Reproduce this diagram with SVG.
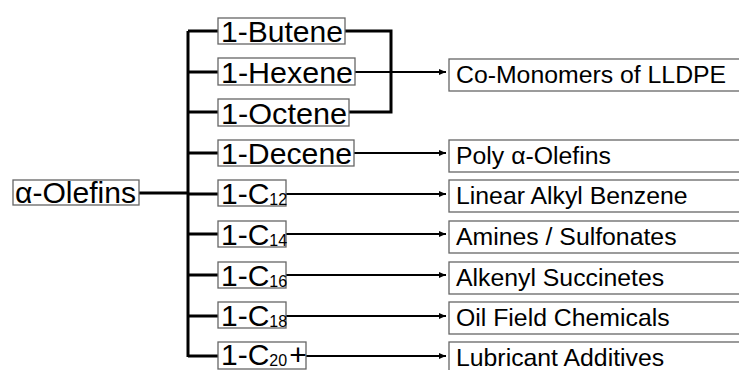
<svg xmlns="http://www.w3.org/2000/svg" width="739" height="370" viewBox="0 0 739 370">
<style>
.box{fill:#fff;stroke:#666;stroke-width:1.3}
.big{font-family:"Liberation Sans",Arial,sans-serif;font-size:30px;fill:#000}
.sub{font-size:16px}
.rt{font-family:"Liberation Sans",Arial,sans-serif;font-size:24.8px;fill:#000}
.ln{fill:none;stroke:#000;stroke-width:3}
.ar{fill:none;stroke:#000;stroke-width:2.2}
</style>
<defs>
<marker id="ah" markerWidth="8" markerHeight="8" refX="7" refY="4" orient="auto" markerUnits="userSpaceOnUse">
<path d="M0,1 L7,4 L0,7 Z" fill="#000"/>
</marker>
</defs>
<rect width="739" height="370" fill="#fff"/>
<g id="connectors">
<path class="ln" d="M139,193 H188 M188,31 V357 M188,31 H218 M188,72 H218 M188,112 H218 M188,153 H218 M188,194 H218 M188,234 H218 M188,275 H218 M188,316 H218 M188,356 H218"/>
<path class="ln" d="M345,31 H391 V112 H349"/>
<path class="ar" d="M355,72 H446" marker-end="url(#ah)"/>
<path class="ar" d="M354,153 H446" marker-end="url(#ah)"/>
<path class="ar" d="M286,194 H446" marker-end="url(#ah)"/>
<path class="ar" d="M286,234 H446" marker-end="url(#ah)"/>
<path class="ar" d="M286,275 H446" marker-end="url(#ah)"/>
<path class="ar" d="M286,316 H446" marker-end="url(#ah)"/>
<path class="ar" d="M306,356 H446" marker-end="url(#ah)"/>
</g>
<g id="alpha-olefins"><rect class="box" x="13" y="180" width="126" height="25"/><text class="big" x="15" y="202.5" textLength="121" lengthAdjust="spacingAndGlyphs">α-Olefins</text></g>
<g id="butene"><rect class="box" x="218" y="18" width="127" height="26"/><text class="big" x="221" y="42" textLength="122" lengthAdjust="spacingAndGlyphs">1-Butene</text></g>
<g id="hexene"><rect class="box" x="218" y="58" width="137" height="27"/><text class="big" x="221" y="82.5" textLength="132" lengthAdjust="spacingAndGlyphs">1-Hexene</text></g>
<g id="octene"><rect class="box" x="218" y="99" width="131" height="27"/><text class="big" x="221" y="123.5" textLength="126" lengthAdjust="spacingAndGlyphs">1-Octene</text></g>
<g id="decene"><rect class="box" x="218" y="140" width="136" height="26"/><text class="big" x="221" y="164" textLength="131" lengthAdjust="spacingAndGlyphs">1-Decene</text></g>
<g id="c12"><rect class="box" x="218" y="180" width="68" height="26"/><text class="big" x="221" y="204">1-C<tspan class="sub" dy="1">12</tspan></text></g>
<g id="c14"><rect class="box" x="218" y="221" width="68" height="26"/><text class="big" x="221" y="245">1-C<tspan class="sub" dy="1">14</tspan></text></g>
<g id="c16"><rect class="box" x="218" y="262" width="68" height="26"/><text class="big" x="221" y="286">1-C<tspan class="sub" dy="1">16</tspan></text></g>
<g id="c18"><rect class="box" x="218" y="302" width="68" height="26"/><text class="big" x="221" y="326">1-C<tspan class="sub" dy="1">18</tspan></text></g>
<g id="c20"><rect class="box" x="218" y="342" width="88" height="27"/><text class="big" x="221" y="365">1-C<tspan class="sub" dy="1">20</tspan><tspan dx="2" dy="-1">+</tspan></text></g>
<g id="comonomers"><rect class="box" x="449" y="59" width="300" height="32"/><text class="rt" x="456" y="83">Co-Monomers of LLDPE</text></g>
<g id="poly"><rect class="box" x="449" y="140" width="300" height="32"/><text class="rt" x="456" y="164">Poly α-Olefins</text></g>
<g id="lab"><rect class="box" x="449" y="180" width="300" height="32"/><text class="rt" x="456" y="204">Linear Alkyl Benzene</text></g>
<g id="amines"><rect class="box" x="449" y="221" width="300" height="32"/><text class="rt" x="456" y="245">Amines / Sulfonates</text></g>
<g id="alkenyl"><rect class="box" x="449" y="262" width="300" height="32"/><text class="rt" x="456" y="286">Alkenyl Succinetes</text></g>
<g id="oilfield"><rect class="box" x="449" y="302" width="300" height="32"/><text class="rt" x="456" y="326">Oil Field Chemicals</text></g>
<g id="lubricant"><rect class="box" x="449" y="342" width="300" height="32"/><text class="rt" x="456" y="366">Lubricant Additives</text></g>
</svg>
